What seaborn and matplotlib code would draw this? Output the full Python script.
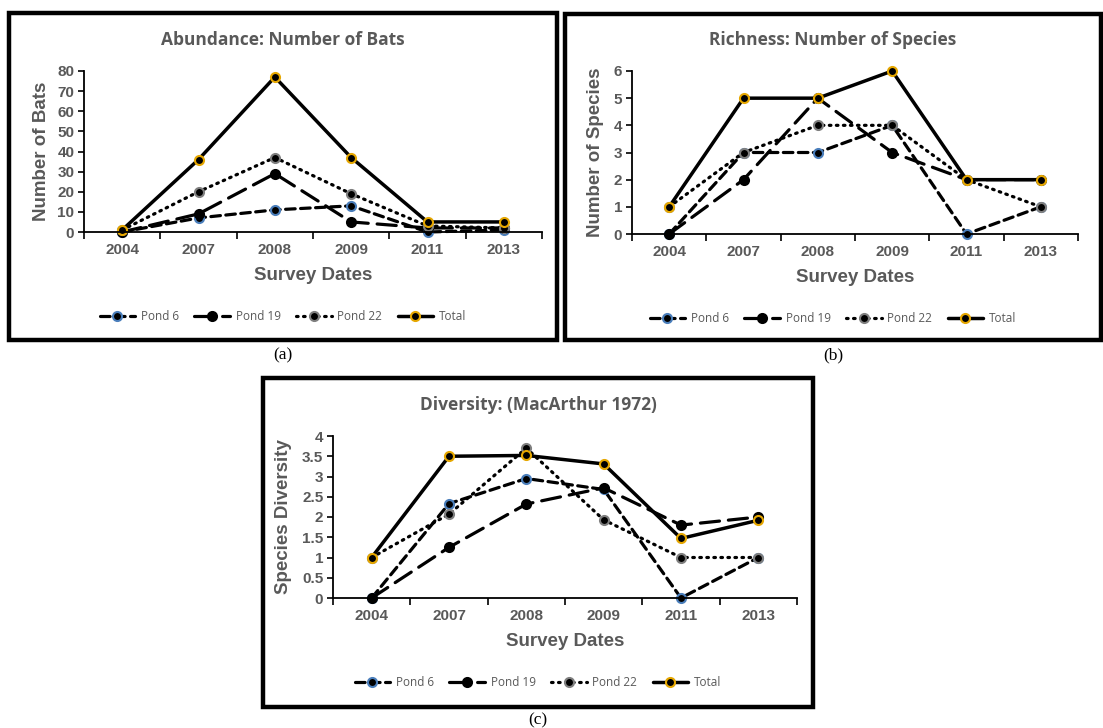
import numpy as np
import matplotlib
matplotlib.use("Agg")
import matplotlib.pyplot as plt
from matplotlib.patches import Rectangle
import seaborn as sns

# survey years (category axis)
years = ["2004", "2007", "2008", "2009", "2011", "2013"]
series_names = ["Pond 6", "Pond 19", "Pond 22", "Total"]

# (a) abundance: number of bats
bats_pond6 = [0, 7, 11, 13, 0, 1]
bats_pond19 = [0, 9, 29, 5, 2, 2]
bats_pond22 = [1, 20, 37, 19, 3, 2]
bats_total = [1, 36, 77, 37, 5, 5]

# (b) richness: number of species
rich_pond6 = [0, 3, 3, 4, 0, 1]
rich_pond19 = [0, 2, 5, 3, 2, 2]
rich_pond22 = [1, 3, 4, 4, 2, 1]
rich_total = [1, 5, 5, 6, 2, 2]

# (c) diversity (MacArthur 1972)
div_pond6 = [0, 2.33, 2.95, 2.68, 0, 1.0]
div_pond19 = [0, 1.25, 2.32, 2.72, 1.80, 2.0]
div_pond22 = [1.0, 2.07, 3.70, 1.93, 1.0, 1.0]
div_total = [1.0, 3.50, 3.52, 3.31, 1.47, 1.92]

W, H = 1103, 728
GRAY = "#595959"

sns.set_theme(style="white")
plt.rcParams["font.family"] = ["Liberation Sans", "DejaVu Sans"]

fig = plt.figure(figsize=(W / 100, H / 100), dpi=100)
fig.patch.set_facecolor("white")


def box(l, t, r, b):
    return [l / W, 1 - b / H, (r - l) / W, (b - t) / H]


# line looks per series: (linestyle, linewidth, marker edge colour)
looks = {
    "Pond 6": ((0, (3.0, 1.7)), 2.3, "#4a7ebb"),
    "Pond 19": ((0, (6.0, 2.8)), 2.3, "black"),
    "Pond 22": ((0, (0.5, 1.7)), 2.3, "#7f7f7f"),
    "Total": ("-", 2.5, "#e6a700"),
}


def panel(frame, axpos, data, ylim, yticks, title, ylabel, tag, tagpos):
    l, t, r, b = axpos
    # outer frame of the panel
    fl, ft, fr, fb = frame
    fig.add_artist(Rectangle((fl / W, 1 - fb / H), (fr - fl) / W, (fb - ft) / H,
                             transform=fig.transFigure, fill=False,
                             edgecolor="black", linewidth=3.2))
    ax = fig.add_axes(box(l, t, r, b))
    x = np.arange(len(years))
    for name, vals in zip(series_names, data):
        ls, lw, mec = looks[name]
        sns.lineplot(x=x, y=vals, ax=ax, color="black", linestyle=ls,
                     linewidth=lw, marker="o", markersize=6.5,
                     markerfacecolor="black", markeredgecolor=mec,
                     markeredgewidth=1.5, label=name, legend=False,
                     clip_on=False, dash_capstyle="round")
    ax.set_xlim(-0.5, len(years) - 0.5)
    ax.set_ylim(*ylim)
    ax.set_yticks(yticks)
    ax.set_yticklabels([f"{v:g}" for v in yticks])
    ax.set_xticks(np.arange(len(years) + 1) - 0.5)
    ax.set_xticklabels([])
    ax.set_xticks(x, minor=True)
    ax.set_xticklabels(years, minor=True)
    ax.tick_params(axis="x", which="major", direction="out", length=5,
                   width=1.2, color="black", bottom=True)
    ax.tick_params(axis="x", which="minor", length=0, pad=8)
    ax.tick_params(axis="y", direction="out", length=4, width=1.2,
                   color="black", left=True, pad=3)
    for lab in ax.get_xticklabels(minor=True) + ax.get_yticklabels():
        lab.set_fontweight("bold")
        lab.set_fontsize(11)
        lab.set_color(GRAY)
    for side in ["top", "right"]:
        ax.spines[side].set_visible(False)
    for side in ["left", "bottom"]:
        ax.spines[side].set_color("black")
        ax.spines[side].set_linewidth(1.3)
    ax.set_xlabel("")
    ax.set_ylabel("")
    ax.grid(False)

    cx = (fl + fr) / 2
    fig.text(cx / W, 1 - (t - 31) / H, title, ha="center", va="center",
             fontsize=12.5, fontweight="bold", color=GRAY,
             family=["Open Sans", "DejaVu Sans"])
    fig.text(((l + r) / 2) / W, 1 - (b + 44) / H, "Survey Dates",
             ha="center", va="center", fontsize=13.5, fontweight="bold",
             color=GRAY)
    fig.text(tagpos[0] / W, 1 - (t + b) / 2 / H, ylabel, rotation=90,
             ha="center", va="center", fontsize=13.5, fontweight="bold",
             color=GRAY)
    handles, labels = ax.get_legend_handles_labels()
    leg = fig.legend(handles, labels, loc="center",
                     bbox_to_anchor=(cx / W, 1 - (b + 85) / H), ncol=4,
                     frameon=False, handlelength=3.0, handletextpad=0.5,
                     columnspacing=1.3, prop={"family": "Open Sans", "size": 8.5})
    for txt in leg.get_texts():
        txt.set_color(GRAY)
    fig.text(cx / W, 1 - tagpos[1] / H, tag, ha="center", va="center",
             fontsize=12.5, color="black",
             family=["Liberation Serif", "DejaVu Serif"])
    return ax


panel((9, 13, 557, 340), (84, 71, 542, 232),
      [bats_pond6, bats_pond19, bats_pond22, bats_total],
      (0, 80), list(range(0, 81, 10)),
      "Abundance: Number of Bats", "Number of Bats", "(a)", (42, 355))

panel((565, 14, 1101, 340), (632, 71, 1078, 234),
      [rich_pond6, rich_pond19, rich_pond22, rich_total],
      (0, 6), list(range(0, 7)),
      "Richness: Number of Species", "Number of Species", "(b)", (595, 355))

panel((263, 378, 813, 707), (333, 436, 797, 598),
      [div_pond6, div_pond19, div_pond22, div_total],
      (0, 4), [i * 0.5 for i in range(9)],
      "Diversity: (MacArthur 1972)", "Species Diversity", "(c)", (284, 720))

fig.savefig("out.png", dpi=100, facecolor="white")
